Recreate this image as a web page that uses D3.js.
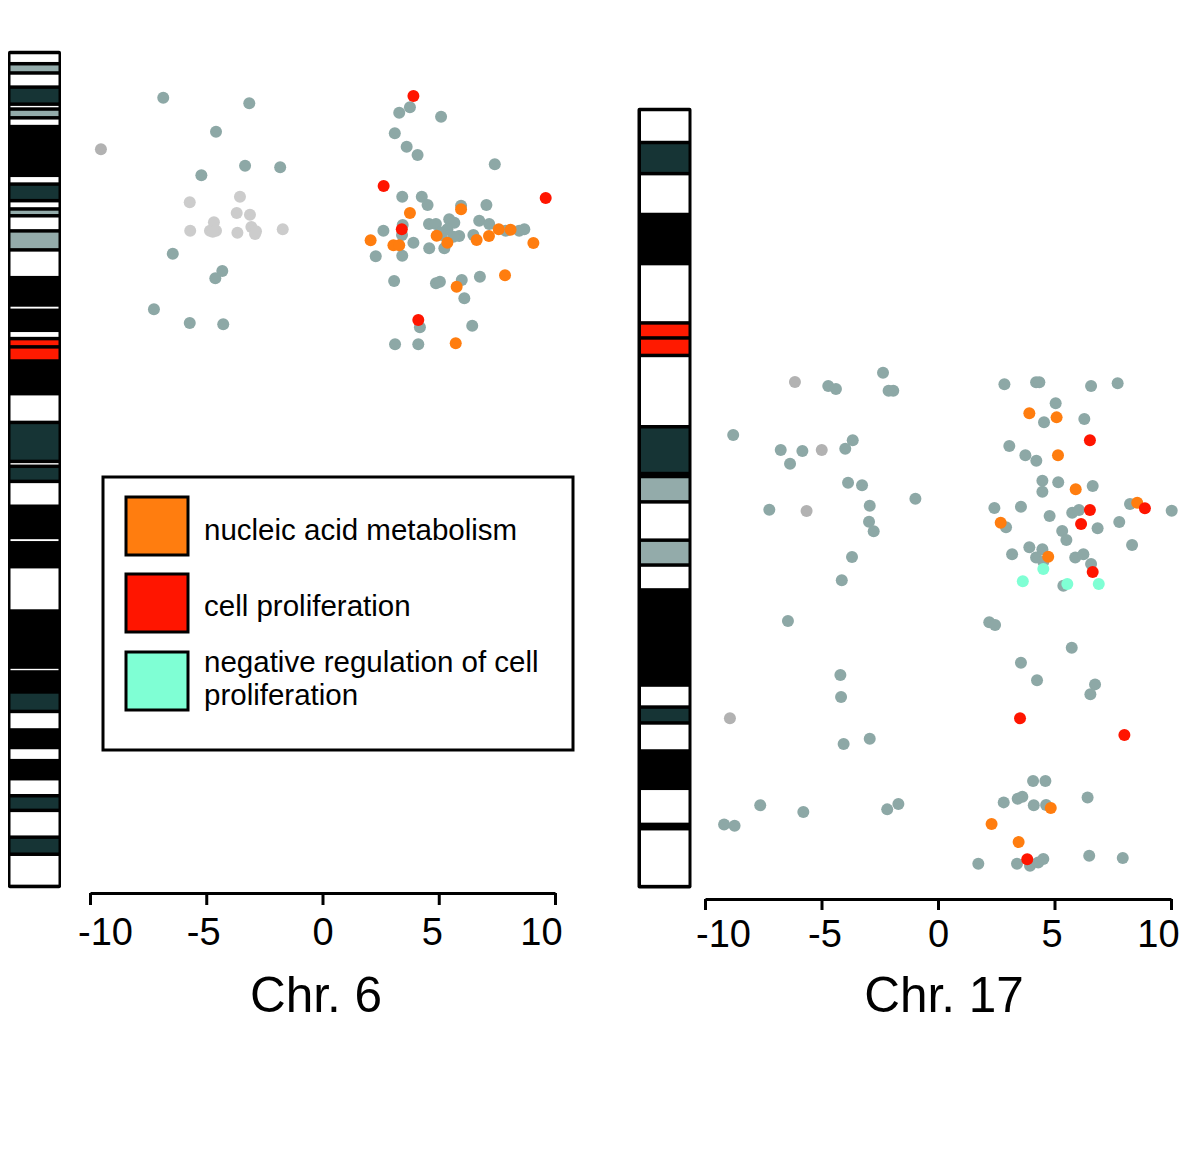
<!DOCTYPE html>
<html>
<head>
<meta charset="utf-8">
<script src="https://cdn.jsdelivr.net/npm/d3@7"></script>
<style>
  html, body { margin: 0; padding: 0; background: #fff; }
  svg { display: block; font-family: "Liberation Sans", Arial, Helvetica, sans-serif; }
</style>
</head>
<body>
<svg id="chart" width="1200" height="1175"></svg>
<script>
// ---------------- DATA ----------------
// Cytogenetic bands: [name, start Mb, end Mb, stain]
const chr6Bands = [
  ["p25.3",0,2.3,"gneg"],["p25.2",2.3,4.2,"gpos25"],["p25.1",4.2,7.1,"gneg"],
  ["p24.3",7.1,10.6,"gpos50"],["p24.2",10.6,11.6,"gneg"],["p24.1",11.6,13.4,"gpos25"],
  ["p23",13.4,15.2,"gneg"],["p22.3",15.2,25.2,"gpos75"],["p22.2",25.2,27.0,"gneg"],
  ["p22.1",27.0,30.4,"gpos50"],["p21.33",30.4,32.1,"gneg"],["p21.32",32.1,33.5,"gpos25"],
  ["p21.31",33.5,36.6,"gneg"],["p21.2",36.6,40.5,"gpos25"],["p21.1",40.5,46.2,"gneg"],
  ["p12.3",46.2,51.8,"gpos100"],["p12.2",51.8,52.9,"gneg"],["p12.1",52.9,57.0,"gpos100"],
  ["p11.2",57.0,58.7,"gneg"],["p11.1",58.7,60.4,"acen"],["q11.1",60.4,63.3,"acen"],
  ["q12",63.3,70.0,"gpos100"],["q13",70.0,75.9,"gneg"],["q14.1",75.9,83.9,"gpos50"],
  ["q14.2",83.9,84.9,"gneg"],["q14.3",84.9,88.0,"gpos50"],["q15",88.0,93.1,"gneg"],
  ["q16.1",93.1,99.5,"gpos100"],["q16.2",99.5,100.6,"gneg"],["q16.3",100.6,105.5,"gpos100"],
  ["q21",105.5,114.6,"gneg"],["q22.1",114.6,126.1,"gpos75"],["q22.32",126.1,127.1,"gneg"],
  ["q22.33",127.1,131.2,"gpos75"],["q23.2",131.2,135.2,"gpos50"],["q23.3",135.2,139.0,"gneg"],
  ["q24.1",139.0,142.6,"gpos75"],["q24.2",142.6,145.3,"gneg"],["q24.3",145.3,149.0,"gpos75"],
  ["q25.1",149.0,152.5,"gneg"],["q25.2",152.5,155.5,"gpos50"],["q25.3",155.5,161.0,"gneg"],
  ["q26",161.0,164.5,"gpos50"],["q27",164.5,171.1,"gneg"]
];
const chr17Bands = [
  ["p13.3",0,3.45,"gneg"],["p13.2",3.45,6.7,"gpos50"],["p13.1",6.7,10.97,"gneg"],
  ["p12",10.97,16.1,"gpos75"],["p11.2",16.1,22.3,"gneg"],["p11.1",22.3,23.87,"acen"],
  ["q11.1",23.87,25.7,"acen"],["q11.2",25.7,33.15,"gneg"],["q12",33.15,38.04,"gpos50"],
  ["q21.1",38.04,38.35,"gpos100"],["q21.2",38.35,41.0,"gpos25"],["q21.31",41.0,45.0,"gneg"],
  ["q21.32",45.0,47.6,"gpos25"],["q21.33",47.6,50.2,"gneg"],["q22",50.2,60.14,"gpos75"],
  ["q23.3",60.14,62.44,"gneg"],["q24.1",62.44,64.1,"gpos50"],["q24.2",64.1,67.03,"gneg"],
  ["q24.3",67.03,70.93,"gpos75"],["q25.1",70.93,74.7,"gneg"],["q25.2",74.7,75.15,"gpos75"],
  ["q25.3",75.15,81.2,"gneg"]
];
const chrLengths = { chr6: 171.1, chr17: 81.2 };

// Points: [score, position Mb]
const chr6Other = [
  [-6.85,9.27],[-3.15,10.42],[-4.58,16.25],[-3.33,23.23],[-1.82,23.56],[-5.21,25.2],
  [-6.44,41.29],[-4.31,44.84],[-4.61,46.33],[-7.25,52.7],[-5.71,55.51],[-4.27,55.77],
  [3.76,11.24],[3.30,12.35],[5.10,13.17],[3.11,16.58],[3.62,19.33],[4.09,21.03],[7.41,22.94],
  [3.43,29.59],[4.27,29.59],[4.52,31.29],[5.96,31.44],[7.05,31.29],[3.45,35.4],[2.62,36.57],
  [3.42,37.45],[2.29,41.82],[3.43,41.7],[3.91,39.03],[4.58,35.19],[4.88,35.19],[5.45,34.23],
  [5.67,34.93],[5.37,36.28],[5.88,37.65],[4.59,40.18],[5.24,40.18],[5.13,37.45],[5.63,37.8],
  [6.49,37.45],[6.74,34.51],[7.17,35.19],[7.88,36.57],[8.46,36.57],[8.68,36.28],[5.05,36.9],
  [3.08,46.89],[4.88,47.36],[5.05,47.03],[5.99,46.68],[6.77,46.01],[6.10,50.44],[4.19,56.39],
  [6.44,56.06],[3.12,59.88],[4.12,59.88]
];
const chr6Faint = [
  [-5.71,30.74],[-3.55,29.59],[-3.69,32.94],[-3.12,33.28],[-4.67,34.84],[-5.69,36.57],
  [-4.84,36.57],[-4.58,36.57],[-4.72,36.77],[-3.66,36.98],[-3.06,35.81],[-2.86,36.69],
  [-2.90,37.24],[-1.71,36.28]
];
const chr6Gray = [[-9.53,19.86]];
const chr6Nucleic = [
  [5.96,32.18],[3.76,32.94],[2.07,38.54],[3.05,39.56],[3.30,39.56],[4.91,37.59],[5.37,39.03],
  [6.63,38.48],[7.16,37.65],[7.58,36.28],[8.09,36.36],[9.07,39.09],[7.85,45.72],[5.77,48.06],
  [5.73,59.67]
];
const chr6Prolif = [[3.91,8.93],[2.63,27.39],[9.60,29.86],[3.41,36.28],[4.12,54.89]];
const chr6NegReg = [];

const chr17Other = [
  [-4.71,28.89],[-4.38,29.21],[-2.36,27.5],[-2.12,29.39],[-1.92,29.39],[-8.79,34.01],
  [-6.75,35.58],[-5.82,35.69],[-6.35,37.01],[-3.66,34.57],[-3.98,35.45],[-3.86,39.0],
  [-3.26,39.27],[-0.97,40.67],[-2.93,41.4],[-7.24,41.82],[-2.96,43.07],[-2.76,44.08],
  [-3.69,46.76],[-4.13,49.2],[-6.44,53.45],[-4.19,59.1],[-4.16,61.39],[-4.05,66.31],
  [-2.93,65.75],[-7.63,72.71],[-5.78,73.41],[-9.18,74.7],[-8.73,74.84],[-2.18,73.13],
  [-1.70,72.58],
  [2.85,28.72],[4.21,28.51],[4.35,28.51],[6.57,28.89],[7.71,28.61],[5.05,30.7],[4.55,32.69],
  [6.28,32.34],[3.06,35.16],[3.75,36.14],[4.22,36.7],[4.48,38.79],[4.48,39.94],[5.16,38.96],
  [6.64,39.34],[2.42,41.64],[3.56,41.51],[2.92,43.66],[4.79,42.48],[5.76,42.13],[6.05,41.85],
  [6.85,43.76],[7.78,43.11],[8.24,41.23],[10.03,41.93],[5.33,44.05],[5.51,44.99],[8.33,45.51],
  [3.18,46.48],[3.92,45.75],[4.48,45.96],[4.21,46.8],[4.52,47.25],[5.89,46.8],[6.24,46.48],
  [6.57,47.5],[5.38,49.76],
  [2.20,53.59],[2.45,53.87],[5.74,56.24],[3.56,57.81],[4.25,59.65],[6.74,60.07],[6.54,61.11],
  [4.08,70.17],[4.61,70.17],[6.42,71.88],[2.82,72.4],[3.42,72.02],[3.62,71.81],[4.11,72.71],
  [4.64,72.68],[1.73,78.81],[3.39,78.81],[3.95,79.02],[4.30,78.67],[4.52,78.32],[6.49,77.98],
  [7.93,78.22]
];
const chr17Faint = [];
const chr17Gray = [[-6.14,28.48],[-4.99,35.58],[-5.64,41.96],[-8.93,63.62]];
const chr17Nucleic = [
  [3.92,31.75],[5.09,32.17],[5.15,36.14],[5.91,39.69],[2.69,43.18],[8.55,41.09],[4.73,46.73],
  [4.84,72.99],[2.30,74.67],[3.46,76.55]
];
const chr17Prolif = [
  [6.52,34.57],[6.52,41.85],[6.14,43.32],[8.88,41.67],[6.64,48.33],[3.52,63.62],[8.0,65.36],
  [3.83,78.35]
];
const chr17NegReg = [[4.52,48.02],[3.64,49.3],[5.55,49.59],[6.9,49.59]];

const xTicks = [-10, -5, 0, 5, 10];
const legendLabels = [["nucleic acid metabolism"], ["cell proliferation"], ["negative regulation of cell", "proliferation"]];
const chrTitles = ["Chr. 6", "Chr. 17"];

// ---------------- STYLE ----------------
const stainColor = {
  gneg: "#ffffff", gpos25: "#93abaa", gpos50: "#163435",
  gpos75: "#000000", gpos100: "#000000", acen: "#ff1a00"
};
const catColor = {
  other: "#8da8a6", faint: "#cccccc", gray: "#b2b2b2",
  nucleic: "#ff7d0f", prolif: "#ff1500", negreg: "#7fffd4"
};
const legendColors = [catColor.nucleic, catColor.prolif, catColor.negreg];

const svg = d3.select("#chart");
svg.append("rect").attr("width", 1200).attr("height", 1175).attr("fill", "#fff");

const panels = [
  {
    title: chrTitles[0], bands: chr6Bands, len: chrLengths.chr6,
    x: d3.scaleLinear().domain([-10, 10]).range([90, 555]),
    y: d3.scaleLinear().domain([0, chrLengths.chr6]).range([52.5, 886.4]),
    ideoX: [8, 61], bandX: [10.5, 58.5], axisY: 893, tickSize: 12, pad: 13,
    labelShift: [15, -3, 0, -7, -14],
    titleX: 316, titleY: 1012,
    sets: [["gray", chr6Gray], ["faint", chr6Faint], ["other", chr6Other],
           ["nucleic", chr6Nucleic], ["prolif", chr6Prolif], ["negreg", chr6NegReg]]
  },
  {
    title: chrTitles[1], bands: chr17Bands, len: chrLengths.chr17,
    x: d3.scaleLinear().domain([-10, 10]).range([705, 1171]),
    y: d3.scaleLinear().domain([0, chrLengths.chr17]).range([109.5, 886.6]),
    ideoX: [637.5, 691.5], bandX: [641, 688.5], axisY: 899, tickSize: 11, pad: 10,
    labelShift: [18, 3, 0, -3, -13],
    titleX: 944, titleY: 1012,
    sets: [["gray", chr17Gray], ["faint", chr17Faint], ["other", chr17Other],
           ["nucleic", chr17Nucleic], ["prolif", chr17Prolif], ["negreg", chr17NegReg]]
  }
];

panels.forEach(p => {
  const g = svg.append("g");
  // ideogram outline
  const y0 = p.y(0), y1 = p.y(p.len);
  g.append("rect")
    .attr("x", p.ideoX[0]).attr("y", y0 - 1.8)
    .attr("width", p.ideoX[1] - p.ideoX[0]).attr("height", y1 - y0 + 3.6)
    .attr("rx", 2).attr("fill", "#000");
  // bands
  const inset = 1.75;
  g.selectAll("rect.band")
    .data(p.bands.filter(b => stainColor[b[3]] !== "#000000"))
    .join("rect").attr("class", "band")
    .attr("x", p.bandX[0]).attr("width", p.bandX[1] - p.bandX[0])
    .attr("y", b => p.y(b[1]) + inset)
    .attr("height", b => Math.max(0, p.y(b[2]) - p.y(b[1]) - 2 * inset))
    .attr("fill", b => stainColor[b[3]]);

  // points
  p.sets.forEach(([cat, arr]) => {
    g.selectAll(null).data(arr).join("circle")
      .attr("cx", d => p.x(d[0])).attr("cy", d => p.y(d[1]))
      .attr("r", 6).attr("fill", catColor[cat]);
  });

  // axis
  const axis = d3.axisBottom(p.x).tickValues(xTicks).tickSize(p.tickSize)
    .tickSizeOuter(0).tickPadding(p.pad).tickFormat(d3.format("d"));
  const ag = g.append("g").attr("transform", `translate(0,${p.axisY})`).call(axis);
  ag.select(".domain").attr("stroke", "#000").attr("stroke-width", 3);
  ag.selectAll(".tick line").attr("stroke", "#000").attr("stroke-width", 3);
  ag.selectAll(".tick text").attr("fill", "#000")
    .style("font-size", "38px")
    .style("font-family", '"Liberation Sans", Arial, Helvetica, sans-serif')
    .attr("dx", (d, i) => p.labelShift[i])
    .text(d => d < 0 ? "-" + Math.abs(d) : String(d));

  g.append("text").attr("x", p.titleX).attr("y", p.titleY)
    .attr("text-anchor", "middle").attr("font-size", 49.5).attr("fill", "#000")
    .text(p.title);
});

// legend
const lg = svg.append("g");
lg.append("rect").attr("x", 103).attr("y", 477).attr("width", 470).attr("height", 273)
  .attr("fill", "#fff").attr("stroke", "#000").attr("stroke-width", 3);
const swY = [497, 574, 652];
const textY = [[540], [616], [672, 705]];
legendLabels.forEach((lines, i) => {
  lg.append("rect").attr("x", 126).attr("y", swY[i]).attr("width", 62).attr("height", 58)
    .attr("fill", legendColors[i]).attr("stroke", "#000").attr("stroke-width", 3);
  lines.forEach((t, j) => {
    lg.append("text").attr("x", 204).attr("y", textY[i][j])
      .attr("font-size", 29.5).attr("fill", "#000").text(t);
  });
});
</script>
</body>
</html>
